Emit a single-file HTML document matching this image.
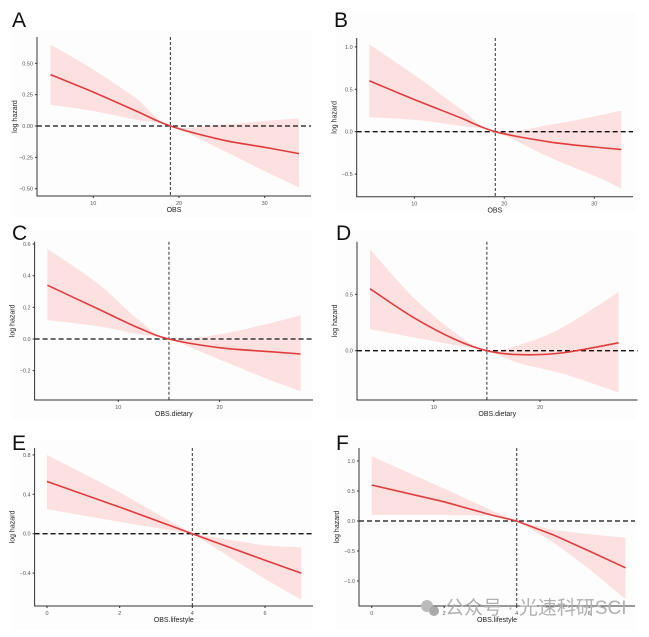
<!DOCTYPE html>
<html><head><meta charset="utf-8"><style>
body{margin:0;background:#fff;}
svg{display:block;font-family:"Liberation Sans","Noto Sans CJK SC",sans-serif;}
</style></head><body>
<svg id="fig" width="649" height="637" viewBox="0 0 649 637"></svg>
<script>
// Panel A
const aX=[5,10,15,19,25,30,34];
const aFit=[0.41,0.27,0.12,0,-0.11,-0.17,-0.22];
const aHi=[0.65,0.45,0.22,0,0.01,0.04,0.06];
const aLo=[0.17,0.12,0.05,0,-0.19,-0.36,-0.49];
const aXTicks=[10,20,30];
const aYTicks=[0.5,0.25,0,-0.25,-0.5];
const aYLabels=["0.50","0.25","0.00","\u22120.25","\u22120.50"];
// Panel B
const bX=[5,10,15,19,25,30,33];
const bFit=[0.6,0.38,0.17,0,-0.12,-0.18,-0.21];
const bHi=[1.03,0.67,0.28,0,0.08,0.18,0.25];
const bLo=[0.17,0.14,0.07,0,-0.3,-0.52,-0.67];
const bXTicks=[10,20,30];
const bYTicks=[1,0.5,0,-0.5];
const bYLabels=["1.0","0.5","0.0","\u22120.5"];
// Panel C
const cX=[3,8,12,15,20,25,28];
const cFit=[0.34,0.19,0.07,0,-0.055,-0.08,-0.095];
const cHi=[0.57,0.35,0.12,0,0.03,0.1,0.15];
const cLo=[0.12,0.08,0.03,0,-0.13,-0.26,-0.33];
const cXTicks=[10,20];
const cYTicks=[0.6,0.4,0.2,0,-0.2];
const cYLabels=["0.6","0.4","0.2","0.0","\u22120.2"];
// Panel D
const dX=[4,8,12,15,18,22,27.4];
const dFit=[0.55,0.3,0.1,0,-0.035,-0.02,0.07];
const dHi=[0.9,0.48,0.16,0,0.05,0.2,0.52];
const dLo=[0.19,0.12,0.05,0,-0.11,-0.2,-0.37];
const dXTicks=[10,20];
const dYTicks=[0.5,0];
const dYLabels=["0.5","0.0"];
// Panel E
const eX=[0,2,4,6,7];
const eFit=[0.53,0.27,0,-0.27,-0.4];
const eHi=[0.8,0.42,0,-0.12,-0.14];
const eLo=[0.25,0.12,0,-0.46,-0.67];
const eXTicks=[0,2,4,6];
const eYTicks=[0.8,0.4,0,-0.4];
const eYLabels=["0.8","0.4","0.0","\u22120.4"];
// Panel F
const fX=[0,2,3.3,4,5,6,7];
const fFit=[0.6,0.32,0.1,0,-0.23,-0.5,-0.78];
const fHi=[1.08,0.54,0.18,0,-0.15,-0.22,-0.28];
const fLo=[0.1,0.1,0.09,0,-0.35,-0.8,-1.3];
const fXTicks=[0,2,4,6];
const fYTicks=[1,0.5,0,-0.5,-1];
const fYLabels=["1.0","0.5","0.0","\u22120.5","\u22121.0"];

const NS="http://www.w3.org/2000/svg";
const svg=document.getElementById('fig');
function mk(tag,attrs,parent){const e=document.createElementNS(NS,tag);for(const k in attrs)e.setAttribute(k,attrs[k]);(parent||svg).appendChild(e);return e;}

const panels=[
 {id:'a',letter:'A',lx:12,ly:27,bg:[12,30,300,188],L:37,R:311,T:37,B:196,x0:10,px0:93.3,x1:30,px1:264.7,y0:0,py0:126,y1:0.5,py1:63.3,ref:19,xs:aX,fit:aFit,hi:aHi,lo:aLo,xt:aXTicks,yt:aYTicks,yl:aYLabels,title:'OBS',smooth:true},
 {id:'b',letter:'B',lx:334,ly:27,bg:[336,12,300,200],L:356.7,R:633,T:38,B:196.7,x0:10,px0:414.3,x1:30,px1:594.3,y0:0,py0:131.7,y1:0.5,py1:89.3,ref:19,xs:bX,fit:bFit,hi:bHi,lo:bLo,xt:bXTicks,yt:bYTicks,yl:bYLabels,title:'OBS',smooth:true},
 {id:'c',letter:'C',lx:12,ly:240,bg:[12,230,300,190],L:34.6,R:313,T:241.7,B:400,x0:10,px0:118.3,x1:20,px1:219.6,y0:0,py0:339,y1:0.4,py1:275.7,ref:15,xs:cX,fit:cFit,hi:cHi,lo:cLo,xt:cXTicks,yt:cYTicks,yl:cYLabels,title:'OBS.dietary',smooth:true},
 {id:'d',letter:'D',lx:336,ly:240,bg:[336,230,300,190],L:357,R:637.5,T:241.7,B:400,x0:10,px0:433.75,x1:20,px1:540,y0:0,py0:350.7,y1:0.5,py1:294.3,ref:15,xs:dX,fit:dFit,hi:dHi,lo:dLo,xt:dXTicks,yt:dYTicks,yl:dYLabels,title:'OBS.dietary',smooth:true},
 {id:'e',letter:'E',lx:12,ly:450,bg:[12,440,300,190],L:34.6,R:313,T:448,B:606,x0:0,px0:47,x1:6,px1:265,y0:0,py0:533.7,y1:0.4,py1:494.3,ref:4,xs:eX,fit:eFit,hi:eHi,lo:eLo,xt:eXTicks,yt:eYTicks,yl:eYLabels,title:'OBS.lifestyle',smooth:false},
 {id:'f',letter:'F',lx:336,ly:450,bg:[336,440,300,190],L:359,R:635,T:448,B:606,x0:0,px0:371.7,x1:4,px1:516.7,y0:0,py0:521,y1:0.5,py1:491,ref:4,xs:fX,fit:fFit,hi:fHi,lo:fLo,xt:fXTicks,yt:fYTicks,yl:fYLabels,title:'OBS.lifestyle',smooth:false}
];

function pathFrom(pts,smooth,move){
  let d=(move?'M':'L')+pts[0][0].toFixed(1)+','+pts[0][1].toFixed(1);
  for(let i=0;i<pts.length-1;i++){
    const p0=pts[Math.max(0,i-1)],p1=pts[i],p2=pts[i+1],p3=pts[Math.min(pts.length-1,i+2)];
    if(smooth){
      const c1=[p1[0]+(p2[0]-p0[0])/6,p1[1]+(p2[1]-p0[1])/6];
      const c2=[p2[0]-(p3[0]-p1[0])/6,p2[1]-(p3[1]-p1[1])/6];
      d+=' C'+c1.map(v=>v.toFixed(1)).join(',')+' '+c2.map(v=>v.toFixed(1)).join(',')+' '+p2[0].toFixed(1)+','+p2[1].toFixed(1);
    } else d+=' L'+p2[0].toFixed(1)+','+p2[1].toFixed(1);
  }
  return d;
}

panels.forEach(p=>{
  const g=mk('g',{});
  
  
  const sx=v=>p.px0+(v-p.x0)*(p.px1-p.px0)/(p.x1-p.x0);
  const sy=v=>p.py0+(v-p.y0)*(p.py1-p.py0)/(p.y1-p.y0);
  const bg=mk('rect',{x:p.bg[0],y:p.bg[1],width:p.bg[2],height:p.bg[3],fill:'#fdfdfd'},g);
  
  
  const lt=mk('text',{x:p.lx,y:p.ly,'font-size':21,fill:'#111'},g);lt.textContent=p.letter;
  
  
  const up=p.xs.map((x,i)=>[sx(x),sy(p.hi[i])]);
  const dn=p.xs.map((x,i)=>[sx(x),sy(p.lo[i])]).reverse();
  const band=mk('path',{d:pathFrom(up,p.smooth,true)+' '+pathFrom(dn,p.smooth,false)+' Z',fill:'#fde0e0'},g);
  
  
  const vl=mk('line',{x1:sx(p.ref),x2:sx(p.ref),y1:p.T,y2:p.B,stroke:'#444','stroke-width':1.1,'stroke-dasharray':'3,2'},g);
  
  
  const hl=mk('line',{x1:p.L,x2:p.R,y1:sy(0),y2:sy(0),stroke:'#111','stroke-width':1.3,'stroke-dasharray':'5,3'},g);
  
  
  const fit=mk('path',{d:pathFrom(p.xs.map((x,i)=>[sx(x),sy(p.fit[i])]),p.smooth,true),fill:'none',stroke:'#e03c3c','stroke-width':1.6},g);
  
  
  const ax=mk('path',{d:`M${p.L},${p.T} L${p.L},${p.B} L${p.R},${p.B}`,fill:'none',stroke:'#333','stroke-width':1},g);
  
  
  p.xt.forEach(v=>{
    mk('line',{x1:sx(v),x2:sx(v),y1:p.B,y2:p.B+2,stroke:'#333'},g);
    const t=mk('text',{x:sx(v),y:p.B+9,'font-size':5.5,fill:'#555','text-anchor':'middle'},g);t.textContent=v;
    
    
  });
  p.yt.forEach((v,i)=>{
    mk('line',{x1:p.L-2,x2:p.L,y1:sy(v),y2:sy(v),stroke:'#333'},g);
    const t=mk('text',{x:p.L-4,y:sy(v)+2,'font-size':5.5,fill:'#555','text-anchor':'end'},g);t.textContent=p.yl[i];
    
    
  });
  const xt=mk('text',{x:(p.L+p.R)/2,y:p.B+16,'font-size':7,fill:'#222','text-anchor':'middle'},g);xt.textContent=p.title;
  
  
  const yx=p.L-20,yy=(p.T+p.B)/2;
  const yt=mk('text',{x:yx,y:yy,'font-size':7,fill:'#222','text-anchor':'middle',transform:`rotate(-90 ${yx} ${yy})`},g);yt.textContent='log hazard';
  
  
});
const wm=mk('g',{});


mk('circle',{cx:427,cy:606,r:6,fill:'#bbb'},wm);
mk('circle',{cx:434,cy:611,r:5,fill:'#aaa'},wm);
const wt=mk('text',{x:445,y:614,'font-size':19,fill:'#b0b0b0'},wm);
wt.textContent='公众号 · 光速科研SCI';
</script>
</body></html>
